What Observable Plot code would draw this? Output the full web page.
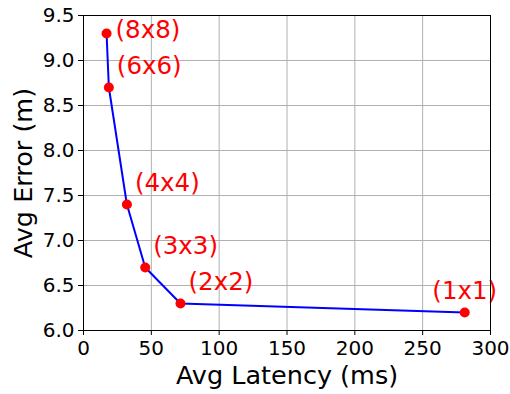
<!DOCTYPE html>
<html>
<head>
<meta charset="utf-8">
<script src="https://cdn.jsdelivr.net/npm/d3@7"></script>
<script src="https://cdn.jsdelivr.net/npm/@observablehq/plot@0.6"></script>
<style>
  html, body { margin: 0; padding: 0; background: #fff; }
  svg { display: block; }
</style>
</head>
<body>
<div id="chart"></div>
<script>
const configs = ["(8x8)", "(6x6)", "(4x4)", "(3x3)", "(2x2)", "(1x1)"];
const latency = [17, 18.7, 32, 45.5, 71.5, 281];
const error = [9.3, 8.7, 7.4, 6.7, 6.3, 6.2];
const xTicks = [0, 50, 100, 150, 200, 250, 300];
const yTicks = [6.0, 6.5, 7.0, 7.5, 8.0, 8.5, 9.0, 9.5];
const xLabel = "Avg Latency (ms)";
const yLabel = "Avg Error (m)";

const data = configs.map((c, i) => ({label: c, x: latency[i], y: error[i], i}));
const font = "DejaVu Sans, sans-serif";

const chart = Plot.plot({
  width: 510,
  height: 394,
  marginLeft: 83,
  marginRight: 20,
  marginTop: 15,
  marginBottom: 64,
  style: {fontFamily: font, background: "#fff", color: "#000"},
  x: {domain: [0, 300]},
  y: {domain: [6, 9.5]},
  marks: [
    Plot.gridX(xTicks, {stroke: "#b0b0b0", strokeOpacity: 1, strokeWidth: 1}),
    Plot.gridY(yTicks, {stroke: "#b0b0b0", strokeOpacity: 1, strokeWidth: 1}),
    Plot.axisX(xTicks, {tickSize: 5, tickPadding: 5, fontSize: 20, label: null, tickFormat: d3.format("d"), stroke: "#000"}),
    Plot.axisY(yTicks, {tickSize: 5, tickPadding: 4, fontSize: 20, label: null, tickFormat: d3.format(".1f"), stroke: "#000"}),
    Plot.line(data, {x: "x", y: "y", stroke: "blue", strokeWidth: 2}),
    Plot.dot(data, {x: "x", y: "y", r: 5, fill: "red", stroke: "none"}),
    Plot.text(data.filter(d => d.i > 0 && d.i < 5), {x: "x", y: "y", text: "label", fill: "red", fontSize: 24.5, textAnchor: "start", dx: 8, dy: -21}),
    Plot.text(data.filter(d => d.i === 0), {x: "x", y: "y", text: "label", fill: "red", fontSize: 24.5, textAnchor: "start", dx: 9, dy: -3}),
    Plot.text(data.filter(d => d.i === 5), {x: "x", y: "y", text: "label", fill: "red", fontSize: 24.5, textAnchor: "middle", dx: 0, dy: -21}),
    Plot.text([xLabel], {frameAnchor: "bottom", textAnchor: "middle", lineAnchor: "middle", dy: 45, fontSize: 25.5, fill: "#000"}),
    Plot.text([yLabel], {frameAnchor: "left", textAnchor: "middle", lineAnchor: "middle", dx: -60, rotate: -90, fontSize: 25.5, fill: "#000"}),
    Plot.frame({stroke: "#000", strokeWidth: 1})
  ]
});
document.getElementById("chart").appendChild(chart);
</script>
</body>
</html>
